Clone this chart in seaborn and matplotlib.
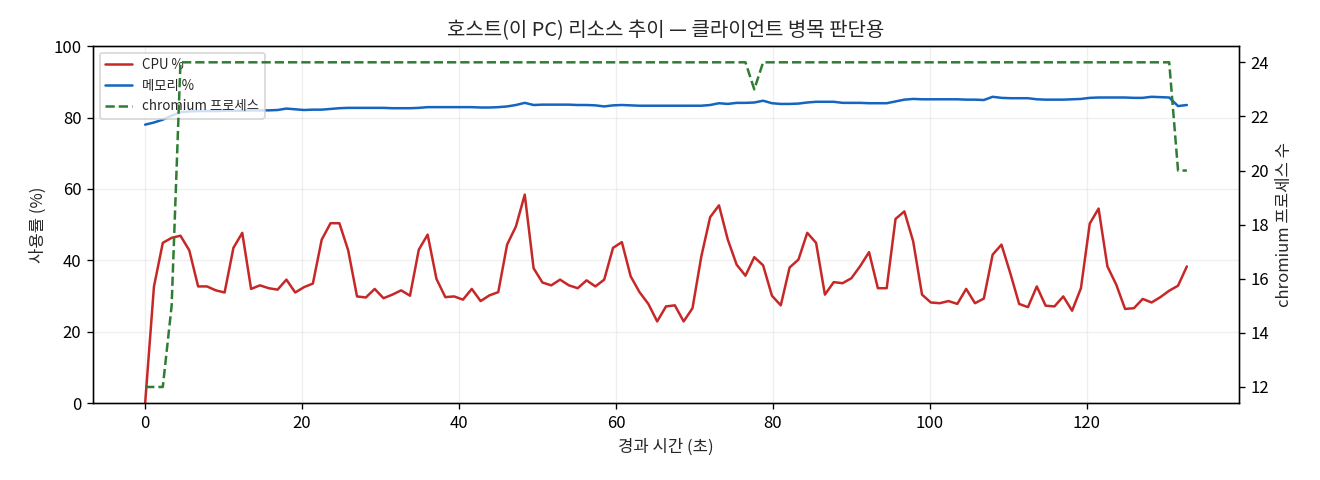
import numpy as np
import pandas as pd
import seaborn as sns
import matplotlib.pyplot as plt

# sampling interval of the monitor (seconds)
interval = 1.125

cpu_pct = [
    0.0, 32.7, 44.9, 46.3, 46.9, 42.8, 32.7, 32.7, 31.6, 31.0,
    43.5, 47.7, 32.0, 33.0, 32.2, 31.8, 34.6, 31.0, 32.5, 33.5,
    45.8, 50.4, 50.4, 42.8, 29.9, 29.6, 32.0, 29.4, 30.4, 31.6,
    30.1, 43.0, 47.2, 34.8, 29.7, 29.9, 29.0, 32.0, 28.6, 30.2,
    31.1, 44.4, 49.5, 58.4, 37.8, 33.8, 33.0, 34.6, 33.0, 32.2,
    34.4, 32.7, 34.6, 43.5, 45.1, 35.5, 31.1, 27.8, 22.9, 27.1,
    27.4, 22.9, 26.6, 41.1, 52.1, 55.4, 45.8, 38.8, 35.7, 40.9,
    38.6, 30.1, 27.4, 38.0, 40.2, 47.7, 44.9, 30.4, 33.9, 33.6,
    35.0, 38.4, 42.3, 32.2, 32.2, 51.6, 53.7, 45.3, 30.4, 28.2,
    28.0, 28.6, 27.8, 32.0, 28.0, 29.3, 41.6, 44.4, 36.4, 27.8,
    26.9, 32.7, 27.3, 27.1, 29.9, 25.9, 32.2, 50.3, 54.5, 38.3,
    33.2, 26.4, 26.6, 29.2, 28.2, 29.7, 31.5, 32.9, 38.3,
]

mem_pct = [
    78.0, 78.6, 79.4, 80.5, 81.5, 81.7, 81.8, 81.8, 81.8, 81.9,
    81.9, 81.9, 82.0, 82.0, 82.0, 82.1, 82.5, 82.3, 82.1, 82.2,
    82.2, 82.4, 82.6, 82.7, 82.7, 82.7, 82.7, 82.7, 82.6, 82.6,
    82.6, 82.7, 82.9, 82.9, 82.9, 82.9, 82.9, 82.9, 82.8, 82.8,
    82.9, 83.1, 83.5, 84.1, 83.5, 83.6, 83.6, 83.6, 83.6, 83.5,
    83.5, 83.4, 83.1, 83.4, 83.5, 83.4, 83.3, 83.3, 83.3, 83.3,
    83.3, 83.3, 83.3, 83.3, 83.5, 84.0, 83.8, 84.1, 84.1, 84.2,
    84.7, 84.0, 83.8, 83.8, 83.9, 84.2, 84.4, 84.4, 84.4, 84.1,
    84.1, 84.1, 84.0, 84.0, 84.0, 84.5, 85.0, 85.2, 85.1, 85.1,
    85.1, 85.1, 85.1, 85.0, 85.0, 84.9, 85.8, 85.5, 85.4, 85.4,
    85.4, 85.1, 85.0, 85.0, 85.0, 85.1, 85.2, 85.5, 85.6, 85.6,
    85.6, 85.6, 85.5, 85.5, 85.8, 85.7, 85.6, 83.2, 83.5,
]

chromium_procs = [12, 12, 12, 15] + [24] * 65 + [23] + [24] * 47 + [20, 20]

elapsed = np.arange(len(cpu_pct)) * interval

df = pd.DataFrame({
    "elapsed": elapsed,
    "cpu": cpu_pct,
    "mem": mem_pct,
    "procs": chromium_procs,
})

sns.set_style("ticks", {"axes.edgecolor": "black",
                        "xtick.color": "black", "ytick.color": "black"})
plt.rcParams["font.family"] = ["Noto Sans CJK KR", "DejaVu Sans"]
plt.rcParams["axes.unicode_minus"] = False

fig, ax = plt.subplots(figsize=(11, 4), dpi=120)
fig.subplots_adjust(left=0.0705, right=0.9386, top=0.904, bottom=0.16)

sns.lineplot(data=df, x="elapsed", y="cpu", ax=ax, color="#c62828",
             linewidth=1.5, label="CPU %", legend=False)
sns.lineplot(data=df, x="elapsed", y="mem", ax=ax, color="#1565c0",
             linewidth=1.5, label="메모리 %", legend=False)
ax.set_ylim(0, 100)
ax.set_xlabel("경과 시간 (초)")
ax.set_ylabel("사용률 (%)")
ax.set_title("호스트(이 PC) 리소스 추이 — 클라이언트 병목 판단용", fontsize=12)
ax.grid(alpha=0.3)

ax2 = ax.twinx()
sns.lineplot(data=df, x="elapsed", y="procs", ax=ax2, color="#2e7d32",
             linewidth=1.5, linestyle="--", label="chromium 프로세스", legend=False)
ax2.set_ylabel("chromium 프로세스 수")

h1, l1 = ax.get_legend_handles_labels()
h2, l2 = ax2.get_legend_handles_labels()
ax.legend(h1 + h2, l1 + l2, loc="upper left", fontsize=8)

fig.savefig("out.png")
